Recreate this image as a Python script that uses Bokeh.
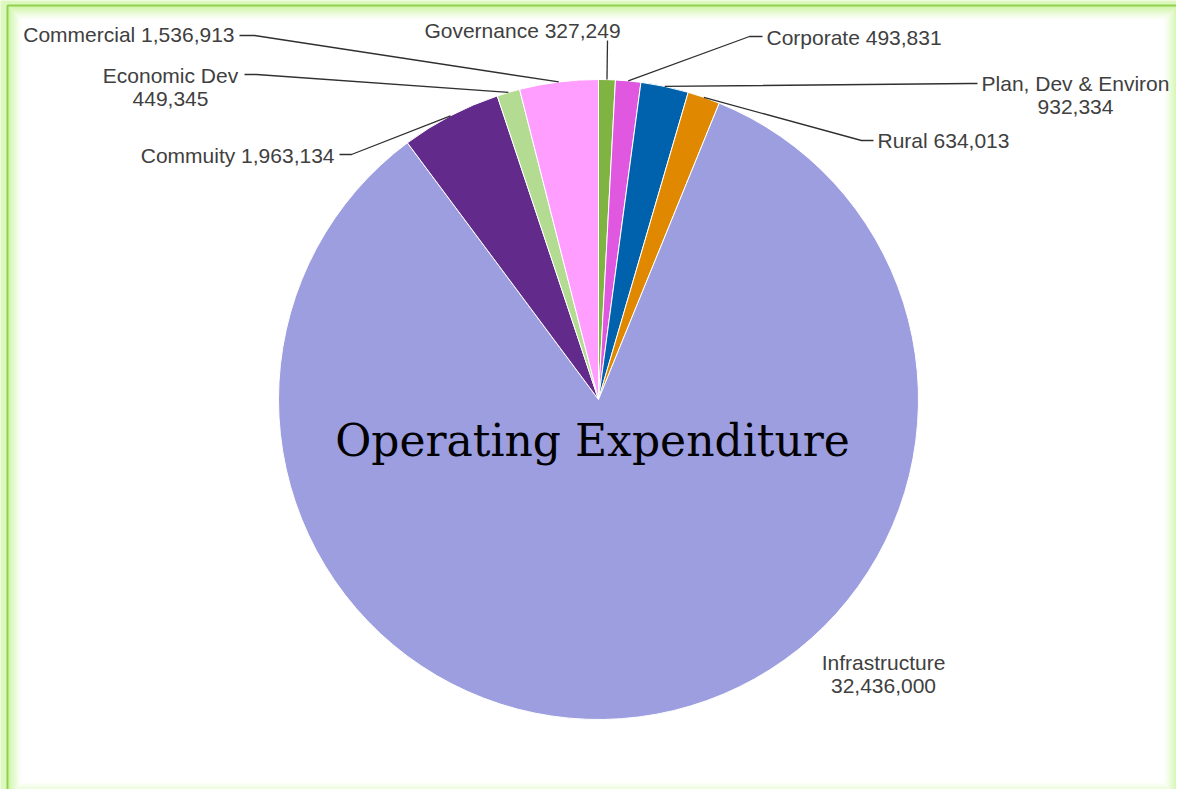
import numpy as np
from bokeh.plotting import figure
from bokeh.models import Range1d, ColumnDataSource
from bokeh.core.properties import value
from bokeh.embed import file_html
from bokeh.resources import INLINE

# ---------------- data ----------------
categories = ["Governance", "Corporate", "Plan, Dev & Environ", "Rural",
              "Infrastructure", "Commuity", "Economic Dev", "Commercial"]
values = [327249, 493831, 932334, 634013, 32436000, 1963134, 449345, 1536913]
colors = ["#80b442", "#e058e0", "#0062ac", "#e08800",
          "#9c9ee0", "#622a8a", "#b3dc92", "#ff9eff"]
chart_title = "Operating Expenditure"

# ---------------- layout (page pixel coords) ----------------
CX, CY, R = 606, 407, 320
# per label: (x, first baseline y, align, two_lines, elbow, end)
label_layout = [
    (530, 38, "center", False, None, (615, 48)),
    (774, 45, "left", False, (757, 44), (770, 44)),
    (1083, 91, "center", True, (978, 91), (985, 91)),
    (885, 148, "left", False, (869, 148), (881, 148)),
    (891, 670, "center", True, None, None),
    (342, 163, "right", False, (359, 162), (347, 162)),
    (178, 83, "center", True, (264, 82), (252, 82)),
    (242, 42, "right", False, (262, 43), (247, 43)),
]
LINE_GAP = 23

p = figure(width=1176, height=789, x_range=Range1d(8, 1184), y_range=Range1d(-797, -8),
           output_backend="svg", toolbar_location=None, min_border=0)
p.axis.visible = False
p.grid.visible = False
p.outline_line_color = None
p.background_fill_color = "#ddf8bf"
p.border_fill_color = "#ddf8bf"

# glow frame
outer = np.array([16, 14, 1185, 806], float)
inner = np.array([29, 27, 1172, 790], float)
c0 = np.array([0xcf, 0xf5, 0xa6], float)
c1 = np.array([0xff, 0xff, 0xff], float)
N = 14
for i in range(N + 1):
    t = i / N
    b = outer + (inner - outer) * t
    c = c0 + (c1 - c0) * (t ** 0.8)
    col = "#%02x%02x%02x" % tuple(int(round(v)) for v in c)
    p.quad(left=[b[0]], right=[b[2]], top=[-b[1]], bottom=[-b[3]],
           fill_color=col, line_color=None)
p.quad(left=[15], right=[1186], top=[-13], bottom=[-807], fill_color=None,
       line_color="#8fd14f", line_width=2)

# pie
vals = np.array(values, float)
frac = vals / vals.sum()
cum = np.concatenate([[0], np.cumsum(frac)])
start = np.pi / 2 - cum[:-1] * 2 * np.pi
end = np.pi / 2 - cum[1:] * 2 * np.pi
src = ColumnDataSource(dict(start=start, end=end, color=colors))
p.wedge(x=CX, y=-CY, radius=R, start_angle="start", end_angle="end", direction="clock",
        fill_color="color", line_color="white", line_width=1, source=src)

# leader lines and labels
mid = (cum[:-1] + cum[1:]) / 2 * 2 * np.pi
xs, ys = [], []
tx, ty, tt, ta = [], [], [], []
for i, (cat, v) in enumerate(zip(categories, values)):
    lx, ly, align, two, elbow, endp = label_layout[i]
    if endp is not None:
        px = CX + R * np.sin(mid[i])
        py = CY - R * np.cos(mid[i])
        pts = [(px, py)] + ([elbow] if elbow else []) + [endp]
        xs.append([q[0] for q in pts])
        ys.append([-q[1] for q in pts])
    if two:
        lines = [cat, f"{v:,}"]
    else:
        lines = [f"{cat} {v:,}"]
    for k, s in enumerate(lines):
        tx.append(lx)
        ty.append(-(ly + k * LINE_GAP))
        tt.append(s)
        ta.append(align)

p.multi_line(xs=xs, ys=ys, line_color="#303030", line_width=1.3)
p.text(x=tx, y=ty, text=tt, text_align=ta, text_baseline="alphabetic",
       text_font=value("Liberation Sans"), text_font_size="21px", text_color="#404040")

p.text(x=[600], y=[-448], text=[chart_title], text_align="center", text_baseline="alphabetic",
       text_font=value("DejaVu Serif"), text_font_size="44px", text_color="#000000")

open("out.html", "w").write(file_html(p, INLINE))
